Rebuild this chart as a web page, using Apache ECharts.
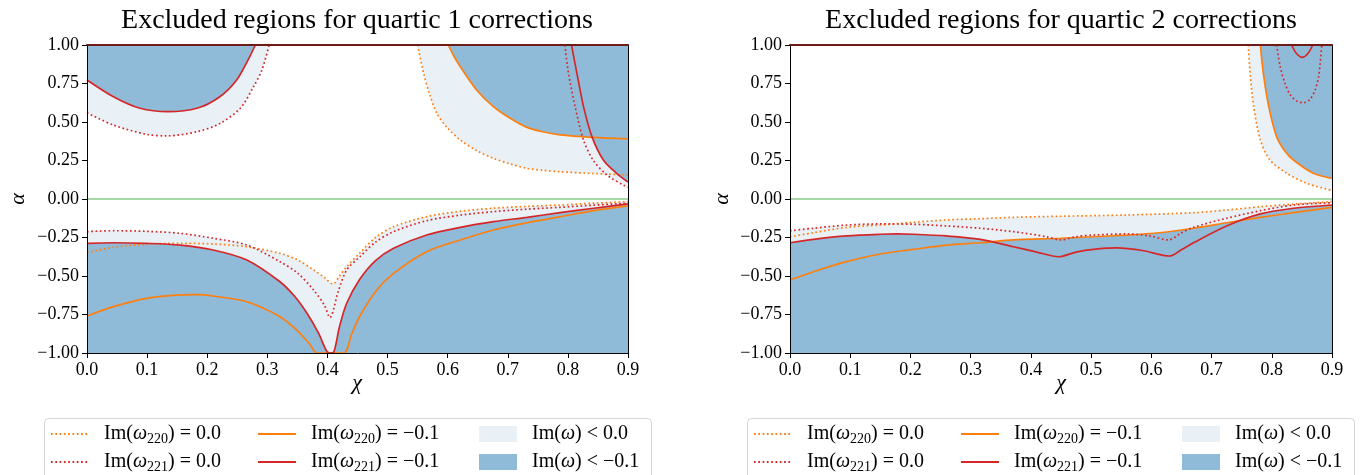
<!DOCTYPE html>
<html><head><meta charset="utf-8">
<script src="https://cdn.jsdelivr.net/npm/echarts@6/dist/echarts.min.js"></script>
<style>html,body{margin:0;padding:0;background:#fff}#c{width:1360px;height:475px}</style>
</head><body><div id="c"></div>
<script>
const titles = ['Excluded regions for quartic 1 corrections', 'Excluded regions for quartic 2 corrections'];
const xTickLabels = ['0.0','0.1','0.2','0.3','0.4','0.5','0.6','0.7','0.8','0.9'];
const yTickLabels = ['\u22121.00','\u22120.75','\u22120.50','\u22120.25','0.00','0.25','0.50','0.75','1.00'];
const zeroLine = [[0, 0], [0.9, 0]];

// ---- quartic 1 (left) ----
const q1_o0_up = [[0.550,1.0],[0.560,0.816],[0.570,0.68],[0.582,0.556],[0.600,0.46],[0.621,0.383],[0.648,0.315],[0.676,0.264],[0.704,0.228],[0.732,0.199],[0.760,0.186],[0.787,0.177],[0.840,0.166],[0.900,0.156]];
const q1_o1_up = [[0.601,1.0],[0.610,0.93],[0.621,0.859],[0.648,0.708],[0.676,0.600],[0.704,0.524],[0.732,0.465],[0.760,0.435],[0.787,0.416],[0.840,0.400],[0.900,0.390]];
const q1_r0_upL = [[0.000,0.560],[0.044,0.480],[0.099,0.420],[0.133,0.410],[0.183,0.437],[0.221,0.490],[0.255,0.589],[0.277,0.729],[0.291,0.838],[0.303,1.0]];
const q1_r1_upL = [[0.000,0.773],[0.044,0.664],[0.088,0.589],[0.135,0.567],[0.183,0.589],[0.221,0.664],[0.249,0.773],[0.268,0.903],[0.280,1.0]];
const q1_r0_upR = [[0.795,1.0],[0.801,0.816],[0.812,0.600],[0.826,0.383],[0.842,0.253],[0.865,0.156],[0.895,0.084],[0.900,0.075]];
const q1_r1_upR = [[0.806,1.0],[0.815,0.816],[0.826,0.600],[0.840,0.405],[0.859,0.253],[0.880,0.170],[0.900,0.110]];
const q1_r0_lo = [[0.000,-0.212],[0.044,-0.206],[0.099,-0.210],[0.155,-0.223],[0.210,-0.255],[0.266,-0.299],[0.321,-0.407],[0.350,-0.48],[0.377,-0.591],[0.395,-0.69],[0.404,-0.770],[0.418,-0.60],[0.432,-0.461],[0.454,-0.375],[0.480,-0.28],[0.510,-0.212],[0.565,-0.141],[0.621,-0.105],[0.676,-0.082],[0.732,-0.066],[0.787,-0.054],[0.843,-0.040],[0.900,-0.028]];
const q1_o0_lo = [[0.000,-0.348],[0.044,-0.314],[0.099,-0.294],[0.155,-0.288],[0.210,-0.292],[0.266,-0.310],[0.321,-0.353],[0.350,-0.395],[0.377,-0.461],[0.395,-0.51],[0.409,-0.552],[0.420,-0.50],[0.432,-0.440],[0.454,-0.350],[0.480,-0.25],[0.510,-0.180],[0.565,-0.115],[0.621,-0.080],[0.676,-0.060],[0.732,-0.048],[0.787,-0.039],[0.843,-0.027],[0.900,-0.017]];
const q1_r1_lo = [[0.000,-0.288],[0.044,-0.284],[0.099,-0.288],[0.155,-0.299],[0.210,-0.331],[0.266,-0.396],[0.321,-0.537],[0.345,-0.63],[0.366,-0.742],[0.385,-0.87],[0.399,-0.990],[0.405,-1.0],[0.411,-0.99],[0.420,-0.83],[0.432,-0.677],[0.454,-0.520],[0.480,-0.40],[0.510,-0.320],[0.565,-0.234],[0.621,-0.184],[0.676,-0.147],[0.732,-0.119],[0.787,-0.089],[0.843,-0.060],[0.900,-0.032]];
const q1_o1_lo = [[0.000,-0.760],[0.044,-0.699],[0.099,-0.645],[0.155,-0.623],[0.183,-0.621],[0.210,-0.630],[0.266,-0.667],[0.321,-0.764],[0.349,-0.851],[0.370,-0.94],[0.383,-1.0],[0.427,-1.0],[0.440,-0.88],[0.454,-0.760],[0.482,-0.591],[0.510,-0.483],[0.565,-0.342],[0.621,-0.266],[0.676,-0.201],[0.732,-0.154],[0.787,-0.115],[0.843,-0.076],[0.900,-0.045]];

// ---- quartic 2 (right) ----
const q2_o0_up = [[0.761,1.0],[0.764,0.816],[0.770,0.600],[0.781,0.383],[0.797,0.253],[0.825,0.167],[0.858,0.102],[0.900,0.055]];
const q2_o1_up = [[0.781,1.0],[0.786,0.816],[0.795,0.600],[0.808,0.405],[0.822,0.31],[0.836,0.253],[0.869,0.167],[0.900,0.134]];
const q2_r0_up = [[0.808,1.0],[0.814,0.859],[0.822,0.750],[0.831,0.675],[0.842,0.635],[0.853,0.625],[0.863,0.645],[0.872,0.708],[0.878,0.800],[0.883,1.0]];
const q2_r1_up = [[0.833,1.0],[0.841,0.945],[0.851,0.920],[0.860,0.945],[0.868,1.0]];
const q2_r0_lo = [[0.000,-0.206],[0.039,-0.190],[0.094,-0.169],[0.150,-0.162],[0.205,-0.164],[0.260,-0.175],[0.316,-0.190],[0.371,-0.212],[0.426,-0.245],[0.449,-0.266],[0.475,-0.245],[0.504,-0.234],[0.559,-0.227],[0.598,-0.240],[0.628,-0.266],[0.650,-0.22],[0.670,-0.184],[0.725,-0.125],[0.781,-0.076],[0.836,-0.039],[0.900,-0.024]];
const q2_o0_lo = [[0.000,-0.245],[0.039,-0.219],[0.094,-0.184],[0.150,-0.169],[0.205,-0.151],[0.260,-0.136],[0.316,-0.128],[0.371,-0.119],[0.449,-0.112],[0.559,-0.104],[0.670,-0.089],[0.725,-0.072],[0.781,-0.050],[0.840,-0.032],[0.900,-0.017]];
const q2_r1_lo = [[0.000,-0.284],[0.039,-0.262],[0.094,-0.240],[0.150,-0.229],[0.177,-0.227],[0.205,-0.229],[0.260,-0.240],[0.316,-0.262],[0.371,-0.310],[0.410,-0.345],[0.446,-0.375],[0.475,-0.345],[0.504,-0.327],[0.543,-0.318],[0.587,-0.336],[0.630,-0.370],[0.650,-0.33],[0.670,-0.284],[0.725,-0.175],[0.781,-0.097],[0.836,-0.060],[0.900,-0.039]];
const q2_o1_lo = [[0.000,-0.526],[0.039,-0.472],[0.094,-0.407],[0.150,-0.357],[0.205,-0.327],[0.260,-0.299],[0.316,-0.284],[0.371,-0.266],[0.449,-0.255],[0.559,-0.234],[0.614,-0.219],[0.670,-0.190],[0.725,-0.154],[0.781,-0.119],[0.836,-0.089],[0.900,-0.054]];

const ORANGE = '#ff7f0e', RED = '#d62728', LIGHT = '#e9f1f7', DARK = '#8fbbd9', GREEN = '#a6d9a6';
const FONT = '"Liberation Serif", "DejaVu Serif", serif';
const SM = 0.3;

const panels = [
  { lightUp: [q1_r0_upL, q1_o0_up, q1_r0_upR], darkUp: [q1_r1_upL, q1_o1_up, q1_r1_upR],
    lightLo: [q1_r0_lo, q1_o0_lo], darkLo: [q1_r1_lo, q1_o1_lo],
    o0: [q1_o0_up, q1_o0_lo], o1: [q1_o1_up, q1_o1_lo], r0: [q1_r0_upL, q1_r0_upR, q1_r0_lo], r1: [q1_r1_upL, q1_r1_upR, q1_r1_lo] },
  { lightUp: [q2_o0_up, q2_r0_up], darkUp: [q2_o1_up, q2_r1_up],
    lightLo: [q2_r0_lo, q2_o0_lo], darkLo: [q2_r1_lo, q2_o1_lo],
    o0: [q2_o0_up, q2_o0_lo], o1: [q2_o1_up, q2_o1_lo], r0: [q2_r0_up, q2_r0_lo], r1: [q2_r1_up, q2_r1_lo] }
];

const series = [];
function fillS(name, data, color, origin, i) {
  series.push({ type: 'line', name, xAxisIndex: i, yAxisIndex: i, data, smooth: SM, symbol: 'none', color,
    lineStyle: { width: 0, color }, areaStyle: { color, opacity: 1, origin }, silent: true, z: 1,
    emphasis: { disabled: true }, animation: false });
}
function lineS(name, data, color, dotted, i) {
  series.push({ type: 'line', name, xAxisIndex: i, yAxisIndex: i, data, smooth: SM, symbol: 'none', color,
    lineStyle: { width: 1.7, color, type: dotted ? [1.7, 2.6] : 'solid', cap: 'butt' }, silent: true, z: 3,
    emphasis: { disabled: true }, animation: false });
}
panels.forEach((p, i) => {
  p.lightUp.forEach(d => fillS('L', d, LIGHT, 'end', i));
  p.lightLo.forEach(d => fillS('L', d, LIGHT, 'start', i));
  p.darkUp.forEach(d => fillS('D', d, DARK, 'end', i));
  p.darkLo.forEach(d => fillS('D', d, DARK, 'start', i));
  series.push({ type: 'line', name: 'zero', xAxisIndex: i, yAxisIndex: i, data: zeroLine, symbol: 'none',
    lineStyle: { width: 2, color: GREEN }, silent: true, z: 2, animation: false });
  p.o0.forEach(d => lineS('o0', d, ORANGE, true, i));
  p.o1.forEach(d => lineS('o1', d, ORANGE, false, i));
  p.r0.forEach(d => lineS('r0', d, RED, true, i));
  p.r1.forEach(d => lineS('r1', d, RED, false, i));
});

const grids = [
  { left: 87, top: 45, width: 541, height: 308 },
  { left: 790, top: 45, width: 542, height: 308 }
];
const axisFont = { fontFamily: FONT, fontSize: 18, color: '#000' };
const xAxes = [], yAxes = [];
[0, 1].forEach(i => {
  xAxes.push({ type: 'value', gridIndex: i, min: 0, max: 0.9, interval: 0.1, position: 'bottom', z: 10,
    axisLine: { show: true, onZero: false, lineStyle: { color: '#000', width: 1 } },
    axisTick: { show: true, length: 5, lineStyle: { color: '#000' } },
    axisLabel: { ...axisFont, margin: 8, formatter: v => xTickLabels[Math.round(v / 0.1)] },
    splitLine: { show: false } });
  yAxes.push({ type: 'value', gridIndex: i, min: -1, max: 1, interval: 0.25, position: 'left', z: 10,
    axisLine: { show: true, onZero: false, lineStyle: { color: '#000', width: 1 } },
    axisTick: { show: true, length: 5, lineStyle: { color: '#000' } },
    axisLabel: { ...axisFont, margin: 8, formatter: v => yTickLabels[Math.round((v + 1) / 0.25)] },
    splitLine: { show: false } });
});
[0, 1].forEach(i => {
  xAxes.push({ type: 'value', gridIndex: i, min: 0, max: 0.9, position: 'top', z: 10,
    axisLine: { show: true, onZero: false, lineStyle: { color: '#6e1b17', width: 2 } },
    axisTick: { show: false }, axisLabel: { show: false }, splitLine: { show: false } });
  yAxes.push({ type: 'value', gridIndex: i, min: -1, max: 1, position: 'right', z: 10,
    axisLine: { show: true, onZero: false, lineStyle: { color: '#000', width: 1 } },
    axisTick: { show: false }, axisLabel: { show: false }, splitLine: { show: false } });
});

const legendText = {
  o0: '{t|Im(}{i|\u03c9}{s|220}{t|) = 0.0}',
  o1: '{t|Im(}{i|\u03c9}{s|220}{t|) = \u22120.1}',
  L: '{t|Im(}{i|\u03c9}{t|) < 0.0}',
  r0: '{t|Im(}{i|\u03c9}{s|221}{t|) = 0.0}',
  r1: '{t|Im(}{i|\u03c9}{s|221}{t|) = \u22120.1}',
  D: '{t|Im(}{i|\u03c9}{t|) < \u22120.1}'
};
const rich = {
  t: { fontFamily: FONT, fontSize: 20, color: '#000', lineHeight: 24 },
  i: { fontFamily: FONT, fontSize: 20, fontStyle: 'italic', color: '#000', lineHeight: 24 },
  s: { fontFamily: FONT, fontSize: 14, color: '#000', lineHeight: 14, verticalAlign: 'bottom' }
};
const legendRows = [436, 464];
const legendCols = [[50, 257, 479], [753, 960, 1182]];
const legendLayout = [['o0', 'o1', 'L'], ['r0', 'r1', 'D']];
const legends = [];
[0, 1].forEach(pi => {
  legendLayout.forEach((row, ri) => {
    row.forEach((nm, ci) => {
      const isFill = (nm === 'L' || nm === 'D');
      const item = isFill
        ? { name: nm, icon: 'rect', itemStyle: { color: nm === 'L' ? LIGHT : DARK, borderWidth: 0 } }
        : { name: nm };
      const lg = { show: true, data: [item], left: legendCols[pi][ci], top: legendRows[ri] - 12,
        itemWidth: 38, itemHeight: 16, padding: 0, selectedMode: false, z: 5,
        formatter: n => legendText[n], textStyle: { rich, padding: [0, 0, 0, 10] } };
      if (!isFill) lg.itemStyle = { opacity: 0, borderWidth: 0 };
      legends.push(lg);
    });
  });
});

const graphic = [
  { type: 'rect', shape: { x: 44.5, y: 418.5, width: 607, height: 70, r: 4 }, style: { fill: '#fff', stroke: '#d5d5d5', lineWidth: 1 }, z: 0 },
  { type: 'rect', shape: { x: 747.5, y: 418.5, width: 607, height: 70, r: 4 }, style: { fill: '#fff', stroke: '#d5d5d5', lineWidth: 1 }, z: 0 },
  { type: 'text', x: 357, y: 21, style: { text: titles[0], font: '28px ' + FONT, fill: '#000', textAlign: 'center', textVerticalAlign: 'middle', verticalAlign: 'middle' } },
  { type: 'text', x: 1061, y: 21, style: { text: titles[1], font: '28px ' + FONT, fill: '#000', textAlign: 'center', textVerticalAlign: 'middle', verticalAlign: 'middle' } },
  { type: 'text', x: 357, y: 383, style: { text: '\u03c7', font: 'italic 22px ' + FONT, fill: '#000', textAlign: 'center', textVerticalAlign: 'middle', verticalAlign: 'middle' } },
  { type: 'text', x: 1061, y: 383, style: { text: '\u03c7', font: 'italic 22px ' + FONT, fill: '#000', textAlign: 'center', textVerticalAlign: 'middle', verticalAlign: 'middle' } },
  { type: 'text', x: 18, y: 199, rotation: Math.PI / 2, style: { text: '\u03b1', font: 'italic 22px ' + FONT, fill: '#000', textAlign: 'center', textVerticalAlign: 'middle', verticalAlign: 'middle' } },
  { type: 'text', x: 722, y: 199, rotation: Math.PI / 2, style: { text: '\u03b1', font: 'italic 22px ' + FONT, fill: '#000', textAlign: 'center', textVerticalAlign: 'middle', verticalAlign: 'middle' } }
];

const chart = echarts.init(document.getElementById('c'), null, { renderer: 'canvas' });
chart.setOption({
  animation: false,
  backgroundColor: '#fff',
  grid: grids,
  xAxis: xAxes,
  yAxis: yAxes,
  legend: legends,
  graphic,
  series
});
</script></body></html>
